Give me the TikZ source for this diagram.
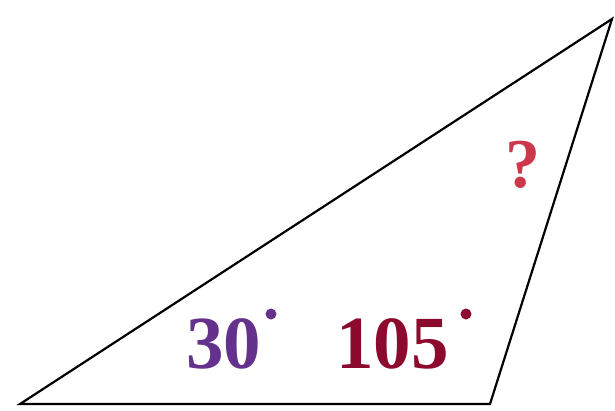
\documentclass[tikz,border=0pt]{standalone}
\usepackage{fontspec}
\setmainfont{Liberation Serif}
\definecolor{thirtycol}{RGB}{100,50,140}
\definecolor{hundredcol}{RGB}{140,10,45}
\definecolor{qcol}{RGB}{205,55,75}
\begin{document}
\begin{tikzpicture}[x=1pt,y=-1pt,
  edge/.style={line width=2.2pt,line join=miter},
  anglabel/.style={font=\fontsize{75}{75}\selectfont\bfseries,inner sep=0pt,anchor=base west},
  degdot/.style={circle,inner sep=0pt,minimum size=11pt}]
\useasboundingbox (0,0) rectangle (615,410);
\coordinate (A) at (20,404);
\coordinate (B) at (490,404);
\coordinate (C) at (612,19);
\draw[edge] (A) -- (B) -- (C) -- cycle;
\node[anglabel,text=thirtycol] (t30) at (186,368) {30};
\node[degdot,fill=thirtycol] (d30) at (271,314) {};
\node[anglabel,text=hundredcol] (t105) at (336,368) {105};
\node[degdot,fill=hundredcol] (d105) at (466,314) {};
\node[anglabel,text=qcol,font=\fontsize{70}{70}\selectfont\bfseries] (q) at (505,187) {?};
\end{tikzpicture}
\end{document}
